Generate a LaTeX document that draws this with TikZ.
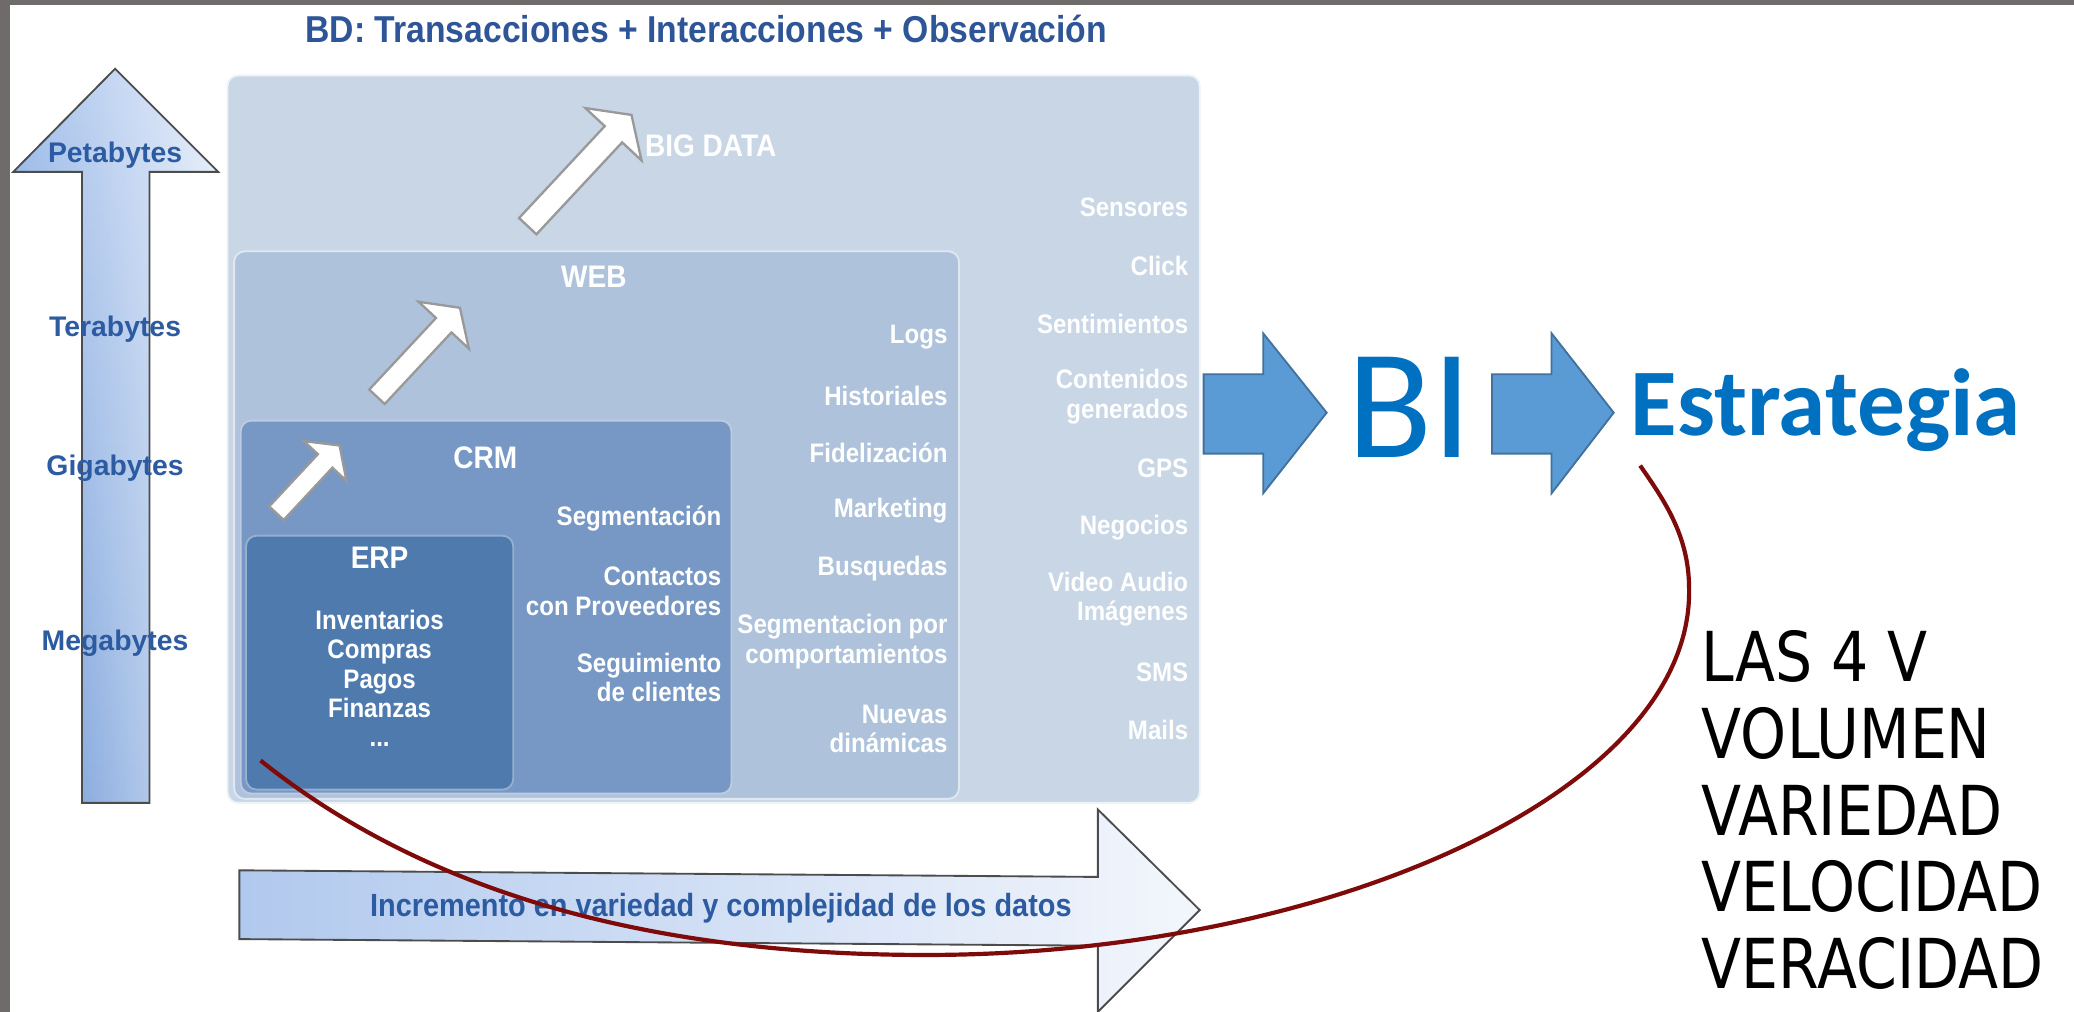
\documentclass[tikz,border=0pt]{standalone}
\usepackage{fontspec}
\setmainfont{Liberation Sans}
\newfontfamily\narrowfont[FakeStretch=0.9]{Liberation Sans}
\newfontfamily\calfont{Carlito}
\newfontfamily\vfont[FakeStretch=0.85]{DejaVu Sans}
\usepackage{tikz}
\usetikzlibrary{positioning,fadings}
\usepackage{xcolor}

\definecolor{framegray}{HTML}{6F6B6B}
\definecolor{titleblue}{HTML}{2E5597}
\definecolor{axisblue}{HTML}{2D5BA2}
\definecolor{bdfill}{HTML}{C8D6E6}
\definecolor{webfill}{HTML}{AEC3DB}
\definecolor{crmfill}{HTML}{7798C4}
\definecolor{erpfill}{HTML}{4F7AAE}
\definecolor{arrowblue}{HTML}{5B9BD5}
\definecolor{arrowedge}{HTML}{41719C}
\definecolor{biblue}{HTML}{0070C0}
\definecolor{curvered}{HTML}{7F0A0A}
\definecolor{axisdark}{HTML}{6592D5}
\definecolor{axislight}{HTML}{A6C2EC}
\definecolor{incrleft}{HTML}{B1C9EE}
\definecolor{incrright}{HTML}{F3F6FC}

\tikzset{
  layerbox/.style={rounded corners=2.3pt, line width=0.4pt},
  whitearrow/.style={fill=white, draw=black!40, line width=0.5pt},
  bluearrow/.style={fill=arrowblue, draw=arrowedge, line width=0.4pt},
  listtext/.style={font=\narrowfont\bfseries\fontsize{5.75pt}{6.3pt}\selectfont, text=white, inner sep=0pt, align=right, anchor=east},
  headtext/.style={font=\narrowfont\bfseries\fontsize{6.7pt}{8pt}\selectfont, text=white, inner sep=0pt},
  axistext/.style={font=\bfseries\fontsize{6.1pt}{7pt}\selectfont, text=axisblue, inner sep=0pt}
}

\begin{document}
\begin{tikzpicture}[x=0.01cm, y=-0.01cm]
\useasboundingbox (0,0) rectangle (1568,765);
\fill[white] (0,0) rectangle (1568,765);
\fill[framegray] (0,0) rectangle (7.5,765);
\fill[framegray] (0,0) rectangle (1568,4);

% title
\node[font=\narrowfont\bfseries\fontsize{8.05pt}{10pt}\selectfont, text=titleblue, inner sep=0pt] (title) at (534,22) {BD: Transacciones + Interacciones + Observación};

% volume axis
\shade[top color=axislight, bottom color=axisdark,
  postaction={fill=white, fill opacity=0.75, path fading=west},
  postaction={draw=black!70, line width=0.4pt}]
  (62,607) -- (62,130) -- (10,130) -- (87,52) -- (165,130) -- (113,130) -- (113,607) -- cycle;
\node[axistext] (pb) at (87,117) {Petabytes};
\node[axistext] (tb) at (87,249) {Terabytes};
\node[axistext] (gb) at (87,354) {Gigabytes};
\node[axistext] (mb) at (87,486) {Megabytes};

% nested layers
\draw[layerbox, fill=bdfill, draw=white!70!bdfill] (172,57) rectangle (907,607);
\draw[layerbox, fill=webfill, draw=white!60!webfill] (177,190) rectangle (725,604);
\draw[layerbox, fill=crmfill, draw=white!50!crmfill] (182,318) rectangle (553,600);
\draw[layerbox, fill=erpfill, draw=white!40!erpfill] (186,405) rectangle (388,597);

% growth arrows
\draw[whitearrow, shift={(399,171)}, rotate=47] (0,-9) -- (95,-9) -- (95,-29) -- (115,0) -- (95,29) -- (95,9) -- (0,9) -- cycle;
\draw[whitearrow, shift={(285,300)}, rotate=47] (0,-8) -- (74,-8) -- (74,-26) -- (92,0) -- (74,26) -- (74,8) -- (0,8) -- cycle;
\draw[whitearrow, shift={(209,388)}, rotate=47] (0,-7.5) -- (54,-7.5) -- (54,-22) -- (70,0) -- (54,22) -- (54,7.5) -- (0,7.5) -- cycle;

\node[headtext, anchor=west] (bdhead) at (487,110) {BIG DATA};
\node[headtext] (webhead) at (449,209) {WEB};
\node[headtext] (crmhead) at (367,346) {CRM};
\node[headtext] (erphead) at (287,422) {ERP};

% ERP
\node[listtext, align=center, anchor=center] (erplist) at (287,513) {Inventarios\\Compras\\Pagos\\Finanzas\\...};

% CRM
\node[listtext] (seg) at (546,392) {Segmentación};
\node[listtext] (cont) at (546,447) {Contactos\\con Proveedores};
\node[listtext] (segui) at (546,512) {Seguimiento\\de clientes};

% WEB
\node[listtext] (logs) at (717,255) {Logs};
\node[listtext] (hist) at (717,299) {Historiales};
\node[listtext] (fid) at (717,342) {Fidelización};
\node[listtext] (mkt) at (717,386) {Marketing};
\node[listtext] (busq) at (717,430) {Busquedas};
\node[listtext] (segcomp) at (717,485) {Segmentacion por\\comportamientos};
\node[listtext] (nuevas) at (717,551) {Nuevas\\dinámicas};

% BIG DATA
\node[listtext] (sens) at (899,157) {Sensores};
\node[listtext] (click) at (899,201) {Click};
\node[listtext] (sent) at (899,245) {Sentimientos};
\node[listtext] (contgen) at (899,300) {Contenidos\\generados};
\node[listtext] (gps) at (899,354) {GPS};
\node[listtext] (neg) at (899,399) {Negocios};
\node[listtext] (video) at (899,453) {Video Audio\\Imágenes};
\node[listtext] (sms) at (899,508) {SMS};
\node[listtext] (mails) at (899,552) {Mails};

% variety axis
\shade[left color=incrleft, right color=incrright, draw=black!70, line width=0.4pt]
  (181,658) -- (830,663) -- (830,612) -- (907,688) -- (830,765) -- (830,715) -- (181,710) -- cycle;
\node[font=\narrowfont\bfseries\fontsize{6.9pt}{8pt}\selectfont, text=axisblue, inner sep=0pt] (incr) at (545,687) {Incremento en variedad y complejidad de los datos};

% BI chain
\draw[bluearrow] (910,283) -- (955,283) -- (955,252) -- (1003,312) -- (955,373) -- (955,343) -- (910,343) -- cycle;
\node[font=\calfont\fontsize{33.6pt}{40pt}\selectfont, text=biblue, inner sep=0pt] (bi) at (1066,308) {BI};
\draw[bluearrow] (1128,283) -- (1173,283) -- (1173,252) -- (1220,312) -- (1173,373) -- (1173,343) -- (1128,343) -- cycle;
\node[font=\calfont\bfseries\fontsize{20.5pt}{24pt}\selectfont, text=biblue, inner sep=0pt, anchor=base west] (estr) at (1232,329) {Estrategia};

\node[font=\vfont\fontsize{14.8pt}{16.5pt}\selectfont, align=left, inner sep=0pt, anchor=north west] (fourv) at (1286,476) {LAS 4 V\\VOLUMEN\\VARIEDAD\\VELOCIDAD\\VERACIDAD};

% loop from ERP to Estrategia
\coordinate (curvestart) at (197,575);
\coordinate (curvelow) at (700,722);
\coordinate (curveside) at (1277,445);
\coordinate (curveend) at (1240,352);
\draw[curvered, line width=0.9pt] (curvestart) .. controls (327,679) and (500,722) .. (curvelow)
  .. controls (1000,722) and (1280,600) .. (curveside)
  .. controls (1277,405) and (1258,378) .. (curveend);
\end{tikzpicture}
\end{document}
